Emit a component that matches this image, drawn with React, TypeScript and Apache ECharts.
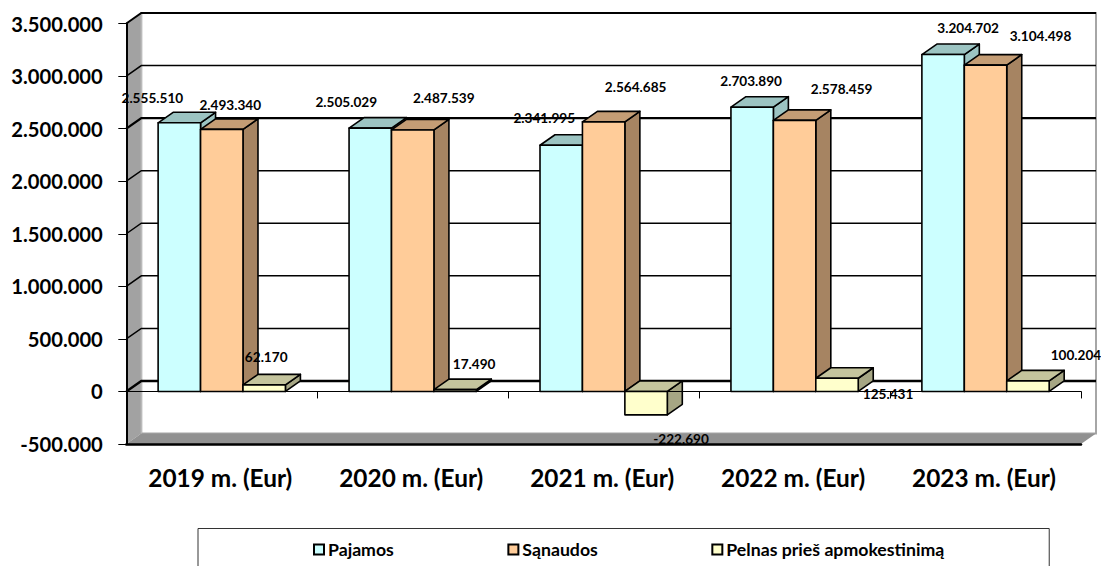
import React, { useEffect, useRef } from "react";
import * as echarts from "echarts";

const categories = ["2019 m. (Eur)", "2020 m. (Eur)", "2021 m. (Eur)", "2022 m. (Eur)", "2023 m. (Eur)"];
const pajamos = [2555510, 2505029, 2341995, 2703890, 3204702];
const sanaudos = [2493340, 2487539, 2564685, 2578459, 3104498];
const pelnas = [62170, 17490, -222690, 125431, 100204];
const yTicks = [-500000, 0, 500000, 1000000, 1500000, 2000000, 2500000, 3000000, 3500000];
const seriesNames = ["Pajamos", "Sąnaudos", "Pelnas prieš apmokestinimą"];

// layout only: hand-placed data label offsets from each bar's top centre
const labelOffsets = [
  [[-27, -25], [-24, -26], [-17, -27], [-1, -26], [25, -27]],
  [[8.5, -24.4], [31, -32], [32, -35], [47, -31], [55, -29]],
  [[2, -28], [19, -26], [35, 24], [51, 16], [48, -26]],
];
const palette = [
  { front: "#CCFFFF", top: "#9CC4C2", side: "#9CC4C2" },
  { front: "#FFCC99", top: "#C49D75", side: "#A68462" },
  { front: "#FFFFCC", top: "#C4C49D", side: "#A6A684" },
];
const DX = 15;
const DY = 10.5;
const FONT = "Lato, 'Open Sans', sans-serif";
const fmt = (v: number) => String(v).replace(/\B(?=(\d{3})+(?!\d))/g, ".");

function barRenderer(si: number) {
  return (params: any, api: any) => {
    const band = api.size([1, 0])[0];
    const w = band / 4.5;
    const p = api.coord([api.value(0), api.value(1)]);
    const z = api.coord([api.value(0), 0]);
    const x0 = p[0] + (si - 1.5) * w;
    const x1 = x0 + w;
    const top = Math.min(p[1], z[1]);
    const bot = Math.max(p[1], z[1]);
    const c = palette[si];
    const stroke = { stroke: "#000", lineWidth: 1.6, lineJoin: "round" };
    return {
      type: "group",
      children: [
        { type: "polygon", shape: { points: [[x1, top], [x1 + DX, top - DY], [x1 + DX, bot - DY], [x1, bot]] }, style: { fill: c.side, ...stroke } },
        { type: "polygon", shape: { points: [[x0, top], [x0 + DX, top - DY], [x1 + DX, top - DY], [x1, top]] }, style: { fill: c.top, ...stroke } },
        { type: "rect", shape: { x: x0, y: top, width: w, height: bot - top }, style: { fill: c.front, ...stroke } },
      ],
    };
  };
}

function labelRenderer(si: number) {
  return (params: any, api: any) => {
    const idx = api.value(0);
    const band = api.size([1, 0])[0];
    const w = band / 4.5;
    const p = api.coord([idx, api.value(1)]);
    const off = labelOffsets[si][idx];
    return {
      type: "text",
      x: p[0] + (si - 1) * w + off[0],
      y: p[1] + off[1],
      style: {
        text: fmt(api.value(1)),
        align: "center",
        verticalAlign: "middle",
        textAlign: "center",
        textVerticalAlign: "middle",
        fontFamily: FONT,
        fontWeight: "bold",
        fontSize: 13.6,
        fill: "#000",
      },
    };
  };
}

function wallsRenderer(params: any) {
  const { x, y, width: w, height: h } = params.coordSys;
  const b = y + h;
  const r = x + w;
  return {
    type: "group",
    children: [
      { type: "polygon", shape: { points: [[x + DX, y - DY], [r + DX, y - DY], [r + DX, b - DY], [x + DX, b - DY]] }, style: { fill: "#fff", stroke: "#A6A6A6", lineWidth: 2 } },
      { type: "polygon", shape: { points: [[x, y], [x + DX, y - DY], [x + DX, b - DY], [x, b]] }, style: { fill: "#A2A2A2" } },
      { type: "polygon", shape: { points: [[x, b], [x + DX, b - DY], [r + DX, b - DY], [r, b]] }, style: { fill: "#919191" } },
      { type: "line", shape: { x1: x + DX, y1: y - DY, x2: x + DX, y2: b - DY }, style: { stroke: "#BDBDBD", lineWidth: 1.2 } },
    ],
  };
}

function gridRenderer(params: any, api: any) {
  const v = api.value(0);
  const { x, width: w } = params.coordSys;
  const yy = api.coord([0, v])[1];
  const heavy = v === 2500000 || v === 0;
  const top = v === 3500000;
  const lw = heavy ? 2.4 : top ? 2 : 1.5;
  const points = [[x, yy], [x + DX, yy - DY], [x + w + DX, yy - DY]];
  return { type: "polyline", shape: { points }, style: { stroke: "#000", lineWidth: lw, fill: "none" } };
}

export default function App() {
  const ref = useRef<HTMLDivElement>(null);
  useEffect(() => {
    const chart = echarts.init(ref.current!, undefined, { renderer: "svg" });
    const values = [pajamos, sanaudos, pelnas];
    const axisCommon = { type: "category", data: categories };
    chart.setOption({
      animation: false,
      grid: { left: 126.3, right: 20, top: 23.5, bottom: 122 },
      legend: {
        left: 198,
        top: 528.5,
        data: seriesNames.map((name, i) => ({
          name,
          icon: "rect",
          itemStyle: { color: palette[i].front, borderColor: "#000", borderWidth: 2 },
        })),
        itemWidth: 10,
        itemHeight: 10,
        itemGap: 113.5,
        padding: [12, 105, 22, 115],
        borderColor: "#333",
        borderWidth: 1,
        selectedMode: false,
        textStyle: { fontFamily: FONT, fontWeight: "bold", fontSize: 17.7, color: "#000", padding: [0, 0, 0, -1] },
      },
      xAxis: [
        {
          ...axisCommon,
          position: "bottom",
          z: 3,
          axisLine: { onZero: false, lineStyle: { color: "#000", width: 2.5 } },
          axisTick: { show: false },
          axisLabel: { margin: 21, padding: [0, 3, 0, 0], fontFamily: FONT, fontWeight: "bold", fontSize: 24.4, color: "#000", interval: 0 },
        },
        {
          ...axisCommon,
          position: "bottom",
          z: 3,
          axisLine: { onZero: true, lineStyle: { color: "#000", width: 1.2 } },
          axisTick: { show: true, length: 7, lineStyle: { color: "#000", width: 1 } },
          axisLabel: { show: false },
        },
      ],
      yAxis: {
        type: "value",
        min: -500000,
        max: 3500000,
        interval: 500000,
        z: 3,
        splitLine: { show: false },
        axisLine: { show: true, onZero: false, lineStyle: { color: "#000", width: 2 } },
        axisTick: { show: true, length: 8, lineStyle: { color: "#000", width: 1 } },
        axisLabel: { margin: 23.5, formatter: (v: number) => fmt(v), fontFamily: FONT, fontWeight: "bold", fontSize: 20.2, color: "#000" },
      },
      series: [
        { name: "walls", type: "custom", z: 1, silent: true, coordinateSystem: "cartesian2d", renderItem: wallsRenderer, data: [[0, 0]], encode: { x: 0, y: 1 } },
        { name: "grid", type: "custom", z: 1, silent: true, coordinateSystem: "cartesian2d", renderItem: gridRenderer, data: yTicks.filter((v) => v > -500000).map((v) => [v]), encode: { y: 0 } },
        ...values.map((vals, si) => ({
          name: seriesNames[si],
          type: "custom",
          z: 2,
          coordinateSystem: "cartesian2d",
          renderItem: barRenderer(si),
          itemStyle: { color: palette[si].front },
          data: vals.map((v, i) => [i, v]),
          encode: { x: 0, y: 1 },
        })),
        ...values.map((vals, si) => ({
          name: "labels" + si,
          type: "custom",
          z: 5,
          silent: true,
          coordinateSystem: "cartesian2d",
          renderItem: labelRenderer(si),
          data: vals.map((v, i) => [i, v]),
          encode: { x: 0, y: 1 },
        })),
      ],
    });
    return () => chart.dispose();
  }, []);
  return <div ref={ref} style={{ position: "fixed", left: 0, top: 0, width: 1101, height: 566, background: "#fff" }} />;
}
